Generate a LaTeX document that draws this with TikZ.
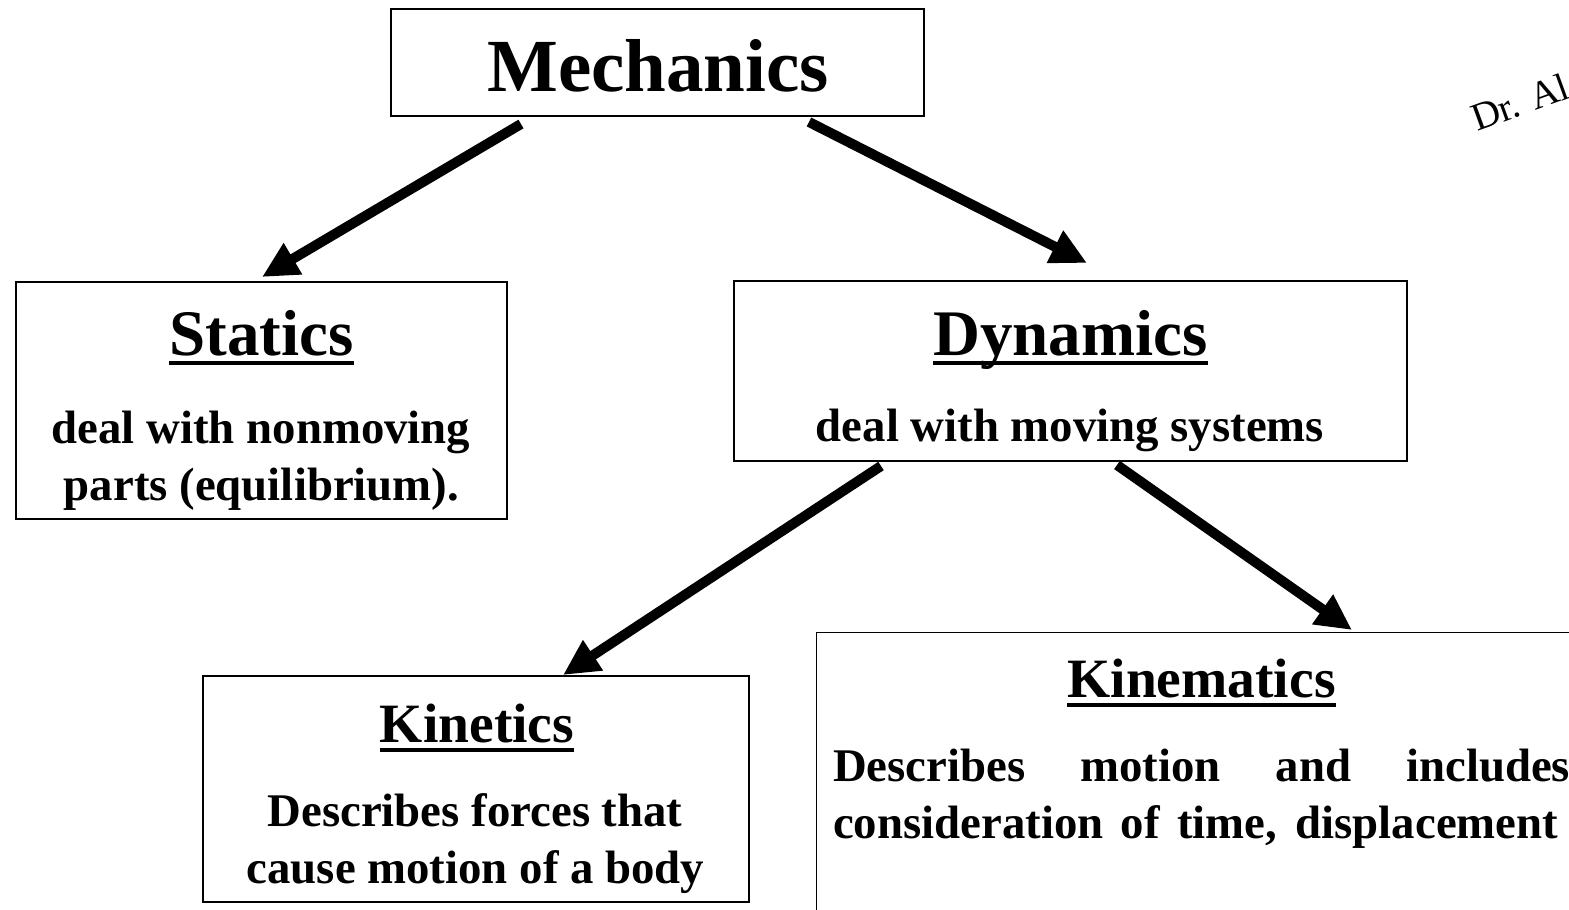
\documentclass[tikz,border=0pt]{standalone}
\usepackage{fontspec}
\setmainfont{Liberation Serif}
\usetikzlibrary{arrows.meta}
\newcommand{\ulbox}[1]{\setbox0\hbox{#1}\rlap{\rule[-10pt]{\wd0}{4pt}}\box0}
\tikzset{
  box/.style={draw, line width=1.3pt, inner sep=0pt},
  txt/.style={anchor=base, inner sep=0pt, font=\bfseries\fontsize{46.8}{55}\selectfont},
  ttl/.style={anchor=base, inner sep=0pt, font=\bfseries\fontsize{65}{78}\selectfont},
  ttls/.style={anchor=base, inner sep=0pt, font=\bfseries\fontsize{55.5}{66}\selectfont},
  arr/.style={line width=10pt, -{Triangle[length=36pt,width=34pt]}}
}
\begin{document}
\begin{tikzpicture}[x=1pt,y=-1pt]
\useasboundingbox (0,0) rectangle (1569,910);
\clip (0,0) rectangle (1569,910);
\fill[white] (0,0) rectangle (1569,910);
% boxes
\node[box, minimum width=533pt, minimum height=107pt] (mech) at (657.5,62.5) {};
\node[box, minimum width=491pt, minimum height=237pt] (stat) at (261.5,400.5) {};
\node[box, minimum width=673pt, minimum height=180pt] (dyn) at (1070.5,371) {};
\node[box, minimum width=546pt, minimum height=226pt] (kin) at (476,789) {};
\node[box, minimum width=800pt, minimum height=400pt, anchor=north west] (kinem) at (816,632) {};
% texts
\node[anchor=base, inner sep=0pt, font=\bfseries\fontsize{75}{90}\selectfont] (tmech) at (658,91) {Mechanics};
\node[ttl] (tstat) at (261.5,355) {\ulbox{Statics}};
\node[txt] (bstat1) at (261,443) {deal with nonmoving};
\node[txt] (bstat2) at (261.5,500) {parts (equilibrium).};
\node[ttl] (tdyn) at (1070.5,355) {\ulbox{Dynamics}};
\node[txt] (bdyn) at (1070,441) {deal with moving systems};
\node[ttls] (tkin) at (477,742) {\ulbox{Kinetics}};
\node[txt] (bkin1) at (475,826) {Describes forces that};
\node[txt] (bkin2) at (475.5,883) {cause motion of a body};
\node[ttls] (tkinem) at (1201.5,697) {\ulbox{Kinematics}};
\node[txt, anchor=base west] (bkinem1) at (833,781) {\makebox[737pt][s]{Describes motion and includes}};
\node[txt, anchor=base west] (bkinem2) at (833,838) {\makebox[725pt][s]{consideration of time, displacement}};
% watermark
\node[anchor=base west, inner sep=0pt, rotate=20, font=\fontsize{39}{44}\selectfont] (wm) at (1477,132) {Dr. Al};
% arrows
\coordinate (a1s) at (521,124); \coordinate (a1e) at (262,277);
\coordinate (a2s) at (809,122); \coordinate (a2e) at (1087,263);
\coordinate (a3s) at (881,466); \coordinate (a3e) at (563,675);
\coordinate (a4s) at (1117,465); \coordinate (a4e) at (1352,630);
\draw[arr] (a1s) -- (a1e);
\draw[arr] (a2s) -- (a2e);
\draw[arr] (a3s) -- (a3e);
\draw[arr] (a4s) -- (a4e);
\end{tikzpicture}
\end{document}
